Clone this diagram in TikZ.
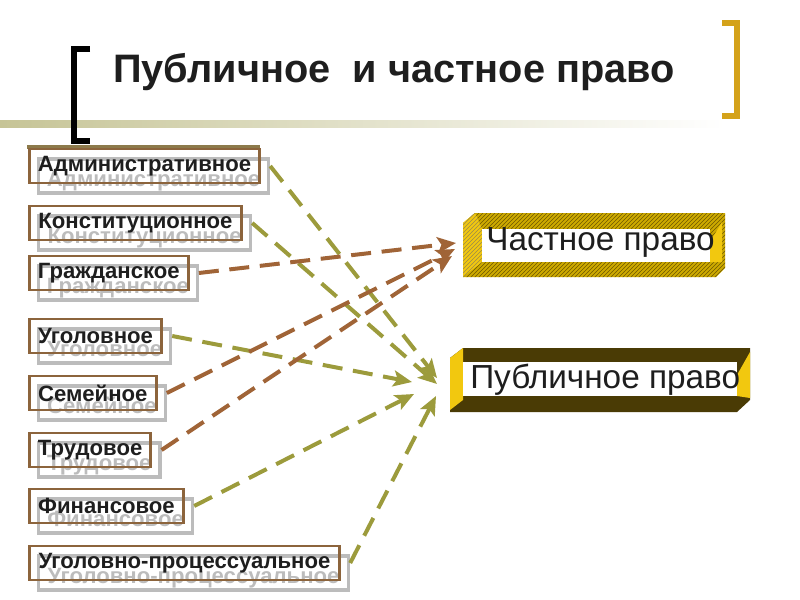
\documentclass[tikz,border=0pt]{standalone}
\usepackage{fontspec}
\setmainfont{Liberation Sans}
\usetikzlibrary{arrows.meta,patterns}

\definecolor{boxbrown}{RGB}{140,100,60}
\definecolor{ghostgray}{RGB}{188,188,188}
\definecolor{pubolive}{RGB}{156,155,60}
\definecolor{privbrown}{RGB}{160,100,55}
\definecolor{bracketgold}{RGB}{212,162,26}
\definecolor{rulekhaki}{RGB}{198,196,150}
\definecolor{rulebrown}{RGB}{140,122,75}
\definecolor{framedark}{RGB}{74,59,5}
\definecolor{frameyellow}{RGB}{242,200,15}
\definecolor{framegold}{RGB}{205,170,0}
\definecolor{hatchdark}{RGB}{110,88,0}
\definecolor{textblack}{RGB}{30,30,30}

\begin{document}
\begin{tikzpicture}[x=0.75pt,y=-0.75pt,>={Stealth[length=14pt,width=12pt,inset=3pt]},
  law node/.style={draw=boxbrown,line width=2.2pt,anchor=west,text=textblack,
    font=\bfseries\fontsize{16.6}{18}\selectfont,minimum height=25.5pt,inner xsep=3pt},
  ghost node/.style={draw=ghostgray,line width=2.4pt,anchor=west,text=ghostgray,
    font=\bfseries\fontsize{16.6}{18}\selectfont,minimum height=25.5pt,inner xsep=3pt,
    text height=15pt,text depth=0pt},
  public/.style={->,draw=pubolive,line width=3pt,dash pattern=on 15pt off 8pt},
  private/.style={->,draw=privbrown,line width=3pt,dash pattern=on 15pt off 8pt},
  frame text/.style={anchor=base west,text=textblack,font=\fontsize{25}{29}\selectfont,inner sep=0pt}]

  \useasboundingbox (0,0) rectangle (800,600);

  % title with brackets and rules
  \shade[left color=rulekhaki,right color=white] (0,120) rectangle (725,127);
  \fill[rulebrown] (27,145) rectangle (260,149);
  \draw[black,line width=4.5pt] (90,49) -- (74,49) -- (74,141) -- (90,141);
  \draw[bracketgold,line width=4.5pt] (722,23) -- (737,23) -- (737,116) -- (722,116);
  \node[anchor=base west,inner sep=0pt,text=textblack,font=\bfseries\fontsize{29.8}{34}\selectfont]
    (title) at (113,82) {Публичное\ \ и частное право};

  % shadows
  \node[ghost node,minimum width=172.5pt] (adm-s) at (37,176) {Административное};
  \node[ghost node,minimum width=159pt] (kon-s) at (37,233) {Конституционное};
  \node[ghost node,minimum width=119pt] (grazh-s) at (37,283) {Гражданское};
  \node[ghost node,minimum width=99pt] (ugol-s) at (37,346) {Уголовное};
  \node[ghost node,minimum width=95pt] (sem-s) at (37,403) {Семейное};
  \node[ghost node,minimum width=91pt] (trud-s) at (37,460) {Трудовое};
  \node[ghost node,minimum width=115.5pt] (fin-s) at (37,516) {Финансовое};
  \node[ghost node,minimum width=232.5pt] (ugpr-s) at (37,573) {Уголовно-процессуальное};

  % branches of law
  \node[law node,minimum width=172.5pt] (adm) at (28,166) {Административное};
  \node[law node,minimum width=159pt] (kon) at (28,223) {Конституционное};
  \node[law node,minimum width=119pt] (grazh) at (28,273) {Гражданское};
  \node[law node,minimum width=99pt] (ugol) at (28,336) {Уголовное};
  \node[law node,minimum width=95pt] (sem) at (28,393) {Семейное};
  \node[law node,minimum width=91pt] (trud) at (28,450) {Трудовое};
  \node[law node,minimum width=115.5pt] (fin) at (28,506) {Финансовое};
  \node[law node,minimum width=232.5pt] (ugpr) at (28,563) {Уголовно-процессуальное};

  % private law frame
  \fill[framegold] (475,213) -- (725,213) -- (725,268) -- (716,277) -- (463,277) -- (463,223) -- cycle;
  \fill[pattern=north east lines,pattern color=hatchdark] (475,213) -- (725,213) -- (725,268) -- (716,277) -- (463,277) -- (463,223) -- cycle;
  \fill[frameyellow] (463,223) -- (475,213) -- (482,229) -- (482,262) -- (463,277) -- cycle;
  \fill[pattern=north east lines,pattern color=hatchdark!70] (463,223) -- (475,213) -- (482,229) -- (482,262) -- (463,277) -- cycle;
  \fill[white] (482,229) rectangle (710,262);
  \fill[frameyellow] (710,242) -- (722,222) -- (722,262) -- (710,262) -- cycle;
  \node[frame text] (priv) at (486,250) {Частное право};

  % public law frame
  \fill[framedark] (463,348) -- (750,348) -- (750,400) -- (737,412) -- (450,412) -- (450,358) -- cycle;
  \fill[frameyellow] (450,358) -- (463,348) -- (463,400) -- (450,410) -- cycle;
  \fill[white] (463,362) rectangle (737,396);
  \fill[frameyellow] (737,375) -- (750,352) -- (750,398) -- (737,396) -- cycle;
  \node[frame text] (pub) at (470,388) {Публичное право};

  % arrow ends
  \coordinate (pub-a) at (437,378);
  \coordinate (pub-k) at (437,384);
  \coordinate (pub-u) at (412,382);
  \coordinate (pub-f) at (414,394);
  \coordinate (pub-p) at (436,396);
  \coordinate (priv-g) at (456,243);
  \coordinate (priv-s) at (455,249);
  \coordinate (priv-t) at (452,256);

  \draw[public] (adm.east -| adm-s.east) -- (pub-a);
  \draw[public] (kon.east -| kon-s.east) -- (pub-k);
  \draw[private] (grazh.east -| grazh-s.east) -- (priv-g);
  \draw[public] (ugol.east -| ugol-s.east) -- (pub-u);
  \draw[private] (sem.east -| sem-s.east) -- (priv-s);
  \draw[private] (trud.east -| trud-s.east) -- (priv-t);
  \draw[public] (fin.east -| fin-s.east) -- (pub-f);
  \draw[public] (ugpr.east -| ugpr-s.east) -- (pub-p);
\end{tikzpicture}
\end{document}
